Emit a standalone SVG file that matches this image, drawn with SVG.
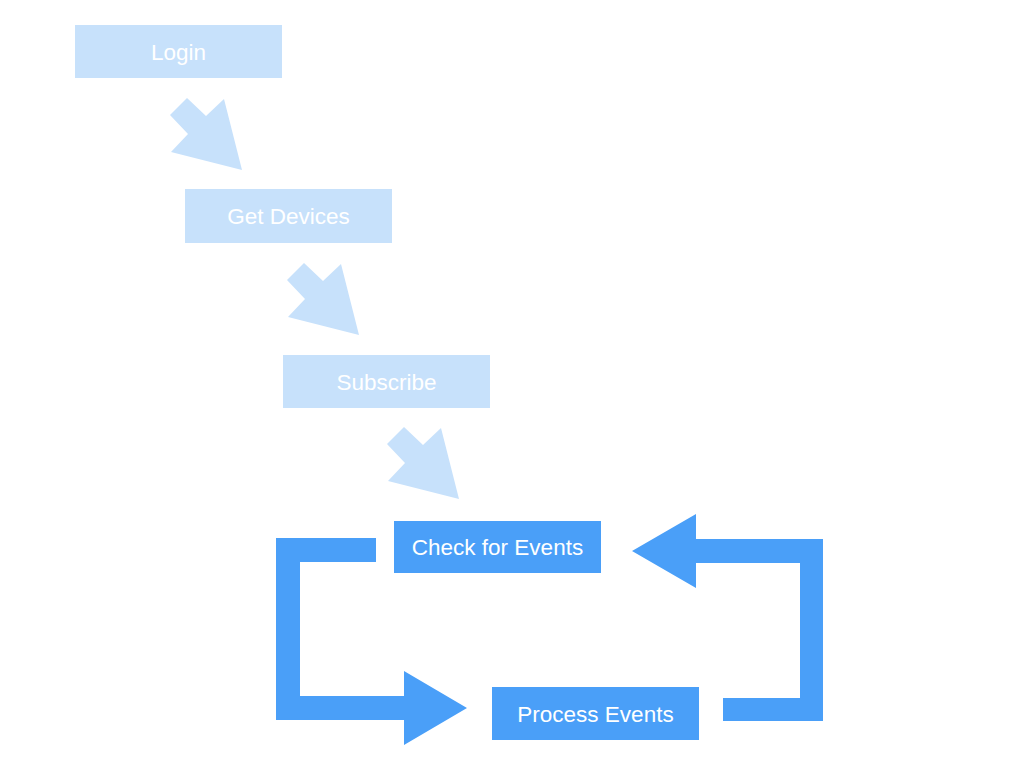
<svg xmlns="http://www.w3.org/2000/svg" xmlns:xlink="http://www.w3.org/1999/xlink" width="1024" height="768" viewBox="0 0 1024 768">
<style>
.light{fill:#C7E1FB}
.dark{fill:#4A9FF8}
.lbl{font-family:"Liberation Sans",Arial,Helvetica,sans-serif;font-size:22.5px;fill:#FFFFFF;text-anchor:middle}
</style>
<defs>
<path id="diagArrow" d="M-55,-72 L-36,-54 L-18,-71 L0,0 L-71,-18 L-54,-36 L-72,-55 Z"/>
</defs>
<rect width="1024" height="768" fill="#FFFFFF"/>
<g id="connectors">
<use xlink:href="#diagArrow" class="light" transform="translate(242,170)"/>
<use xlink:href="#diagArrow" class="light" transform="translate(359,335)"/>
<use xlink:href="#diagArrow" class="light" transform="translate(459,499)"/>
<path class="dark" d="M376,538 H276 V720 H404 V745 L467,708 L404,671 V696 H300 V562 H376 Z"/>
<path class="dark" d="M723,721 H823 V539 H696 V514 L632,551 L696,588 V563 H800 V698 H723 Z"/>
</g>
<g id="login">
<rect class="light" x="75" y="25" width="207" height="53"/>
<text class="lbl" x="178.5" y="59.5">Login</text>
</g>
<g id="get-devices">
<rect class="light" x="185" y="189" width="207" height="54"/>
<text class="lbl" x="288.5" y="224">Get Devices</text>
</g>
<g id="subscribe">
<rect class="light" x="283" y="355" width="207" height="53"/>
<text class="lbl" x="386.5" y="389.5">Subscribe</text>
</g>
<g id="check-events">
<rect class="dark" x="394" y="521" width="207" height="52"/>
<text class="lbl" x="497.5" y="555">Check for Events</text>
</g>
<g id="process-events">
<rect class="dark" x="492" y="687" width="207" height="53"/>
<text class="lbl" x="595.5" y="721.5">Process Events</text>
</g>
</svg>
